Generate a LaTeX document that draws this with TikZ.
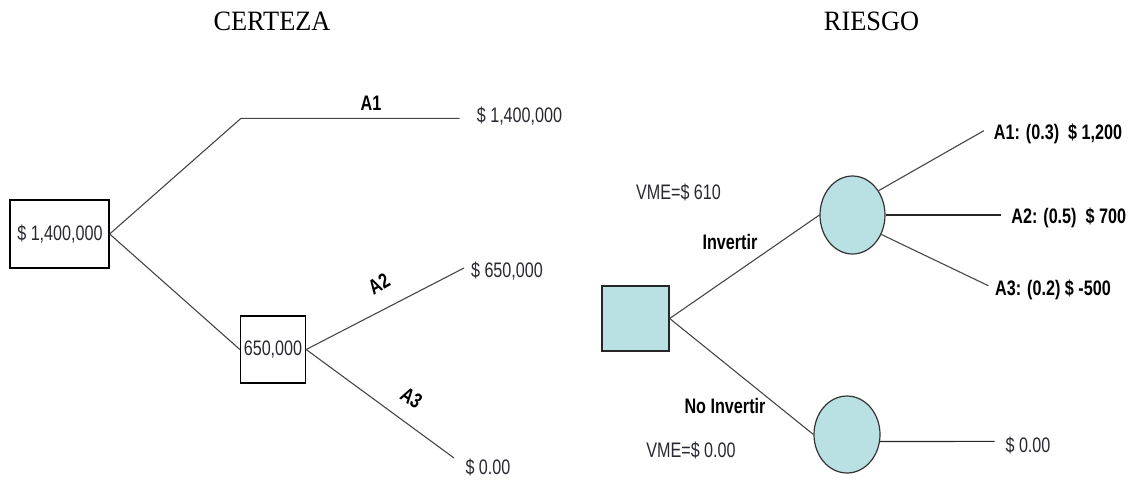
\documentclass[tikz,border=0pt]{standalone}
\usepackage{fontspec}
\usetikzlibrary{shapes.geometric}
\newfontfamily\labfont[FakeStretch=0.77]{Liberation Sans}
\newfontfamily\titfont[FakeStretch=0.94]{Liberation Serif}
\definecolor{nodefill}{RGB}{185,224,227}
\definecolor{labelgray}{RGB}{40,40,48}
\definecolor{branchgray}{RGB}{70,70,70}
\tikzset{
  lab/.style={inner sep=0pt, text=labelgray, font=\labfont\fontsize{21}{25}\selectfont},
  blab/.style={inner sep=0pt, text=black, font=\labfont\bfseries\fontsize{21}{25}\selectfont},
  title/.style={inner sep=0pt, text=black, font=\titfont\fontsize{28}{32}\selectfont},
  valbox/.style={draw=black, line width=1.3pt, rectangle, inner sep=0pt, fill=white},
  decbox/.style={draw=black!85, line width=1.3pt, rectangle, inner sep=0pt, fill=nodefill},
  chance/.style={draw=black!80, line width=1.2pt, ellipse, inner sep=0pt, fill=nodefill},
  branch/.style={draw=branchgray, line width=1.1pt},
}
\begin{document}
\begin{tikzpicture}[x=1pt, y=-1pt]
\useasboundingbox (0,0) rectangle (1133,480);

% titles
\node[title] (tcert) at (272,21.7) {CERTEZA};
\node[title] (tries) at (871.5,21.7) {RIESGO};

% ---- certainty tree ----
\node[valbox, minimum width=99pt, minimum height=68pt] (b1) at (59.5,234) {};
\node[lab] (b1t) at (60,234) {\$ 1,400,000};
\node[valbox, minimum width=65pt, minimum height=67pt] (b2) at (273,349.5) {};
\node[lab] (b2t) at (273,349.5) {650,000};

\coordinate (j1) at (241,118.3);
\coordinate (e1) at (459.6,118.3);
\coordinate (e2) at (464,268);
\coordinate (e3) at (454,458);

\draw[branch] (b1.east) -- (j1) -- (e1);
\draw[branch] (b1.east) -- (b2.west);
\draw[branch] (b2.east) -- (e2);
\draw[branch] (b2.east) -- (e3);

\node[blab] (la1) at (371,103) {A1};
\node[blab, rotate=30] (la2) at (379,284) {A2};
\node[blab, rotate=-33] (la3) at (411.5,398) {A3};

\node[lab] (v1) at (519.5,116) {\$ 1,400,000};
\node[lab] (v2) at (507,271) {\$ 650,000};
\node[lab] (v3) at (488,467) {\$ 0.00};

% ---- risk tree ----
\node[decbox, minimum width=67pt, minimum height=65pt] (sq) at (635.5,318.5) {};
\node[chance, minimum width=65pt, minimum height=78pt] (c1) at (852.5,215) {};
\node[chance, minimum width=66pt, minimum height=77pt] (c2) at (847,434.5) {};

\coordinate (r1) at (983.8,130.7);
\coordinate (r2) at (1000.5,215);
\coordinate (r3) at (988.3,285.7);
\coordinate (r4) at (994.6,441.4);

\draw[branch] (sq.east) -- (c1.west);
\draw[branch] (sq.east) -- (c2.west);
\draw[branch] (c1.43) -- (r1);
\draw[branch, draw=black!85] (c1.east) -- (r2);
\draw[branch] (c1.-34) -- (r3);
\draw[branch, draw=black!85] (c2.-12) -- (r4);

\node[lab] (vme1) at (678.5,192.7) {VME=\$ 610};
\node[blab] (inv) at (730,241.7) {Invertir};
\node[blab] (noinv) at (725,406) {No Invertir};
\node[lab] (vme2) at (691,450.7) {VME=\$ 0.00};

\node[blab] (o1) at (1058,134.3) {A1: (0.3)\ \ \$ 1,200};
\node[blab] (o2) at (1068.7,218.3) {A2: (0.5)\ \ \$ 700};
\node[blab] (o3) at (1053,290) {A3: (0.2) \$ -500};
\node[lab] (o4) at (1028,445) {\$ 0.00};
\end{tikzpicture}
\end{document}
